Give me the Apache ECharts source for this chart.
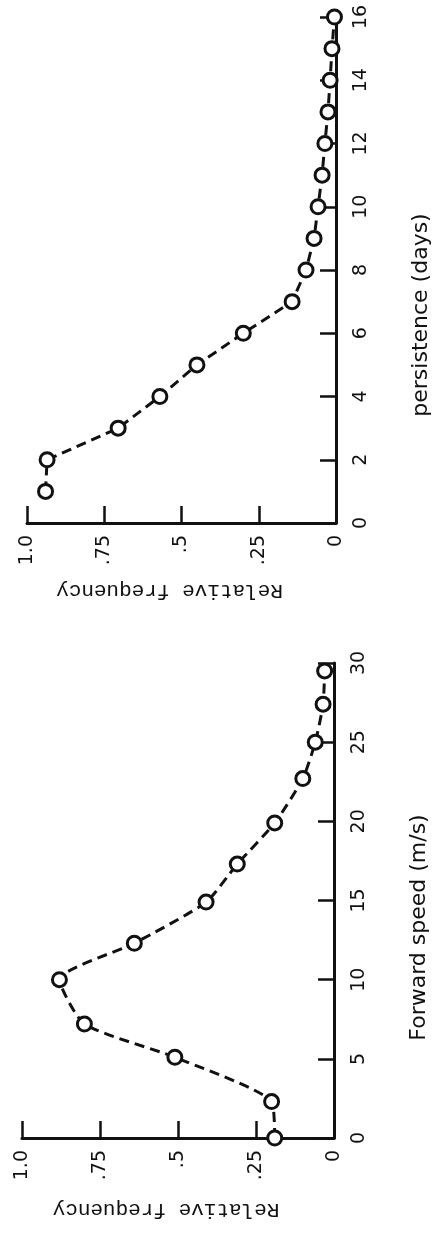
<!DOCTYPE html>
<html>
<head>
<meta charset="utf-8">
<title>Relative frequency of persistence and forward speed</title>
<script src="https://cdn.jsdelivr.net/npm/echarts@6/dist/echarts.min.js"></script>
<style>
  html, body { margin: 0; padding: 0; background: #fff; }
  #chart { width: 441px; height: 1236px; }
</style>
</head>
<body>
<div id="chart"></div>
<script>
// Persistence panel (upper)
const persistenceDays = [1, 2, 3, 4, 5, 6, 7, 8, 9, 10, 11, 12, 13, 14, 15, 16];
const persistenceFreq = [0.94, 0.935, 0.705, 0.57, 0.45, 0.30, 0.142, 0.097, 0.071, 0.058, 0.045, 0.036, 0.026, 0.019, 0.013, 0.005];

// Forward speed panel (lower)
const forwardSpeed = [0, 2.3, 5.1, 7.2, 10, 12.3, 14.9, 17.3, 19.9, 22.7, 25, 27.4, 29.5];
const speedFreq = [0.19, 0.20, 0.51, 0.80, 0.88, 0.64, 0.41, 0.31, 0.19, 0.10, 0.06, 0.035, 0.03];

// Frequency axis tick labels
const freqTicks = [0, 0.25, 0.5, 0.75, 1];
const freqTickText = ['0', '.25', '.5', '.75', '1.0'];

const freqName = 'Relative frequency';
const daysName = 'persistence (days)';
const speedName = 'Forward speed (m/s)';

const INK = '#111';

function freqLabel(v) {
  const i = freqTicks.findIndex(t => Math.abs(t - v) < 1e-9);
  return i >= 0 ? freqTickText[i] : '';
}

function freqAxis(gridIndex, gap) {
  return {
    type: 'value', gridIndex, inverse: true,
    min: 0, max: 1, interval: 0.25,
    position: 'bottom',
    axisLine: { show: true, onZero: false, lineStyle: { color: INK, width: 3 } },
    axisTick: { show: true, inside: true, length: 17, lineStyle: { color: INK, width: 2.5 } },
    axisLabel: {
      rotate: 90, margin: 12, color: INK, fontSize: 19,
      fontFamily: 'DejaVu Sans', formatter: freqLabel
    },
    splitLine: { show: false },
    name: freqName, nameLocation: 'middle', nameRotate: 180, nameGap: gap,
    nameMoveOverlap: false,
    nameTextStyle: { color: INK, fontSize: 21, fontFamily: 'Liberation Mono', padding: [0, 0, 0, 24] }
  };
}

function valueAxis(gridIndex, max, interval, name, shift) {
  return {
    type: 'value', gridIndex, min: 0, max, interval,
    position: 'right',
    axisLine: { show: true, onZero: false, lineStyle: { color: INK, width: 3 } },
    axisTick: { show: true, inside: true, length: 16, lineStyle: { color: INK, width: 2.5 } },
    axisLabel: { rotate: 90, margin: 16, color: INK, fontSize: 19, fontFamily: 'DejaVu Sans' },
    splitLine: { show: false },
    name, nameLocation: 'middle', nameRotate: 90, nameGap: 74,
    nameMoveOverlap: false,
    nameTextStyle: {
      color: INK, fontSize: 22, fontFamily: 'DejaVu Sans',
      padding: [0, shift, 0, 0]
    }
  };
}

const markerStyle = { color: '#fff', borderColor: INK, borderWidth: 3 };
const dashStyle = { color: INK, width: 3, type: [10, 6] };

const option = {
  backgroundColor: '#fff',
  animation: false,
  grid: [
    { left: 27, right: 105, top: 17, height: 506, containLabel: false, outerBoundsMode: 'none' },
    { left: 22, right: 107, top: 663, height: 475, containLabel: false, outerBoundsMode: 'none' }
  ],
  xAxis: [freqAxis(0, 57), freqAxis(1, 61)],
  yAxis: [
    valueAxis(0, 16, 2, daysName, 90),
    valueAxis(1, 30, 5, speedName, 54)
  ],
  series: [
    {
      type: 'line', xAxisIndex: 0, yAxisIndex: 0,
      data: persistenceDays.map((d, i) => [persistenceFreq[i], d]),
      symbol: 'circle', symbolSize: 14,
      itemStyle: markerStyle, lineStyle: dashStyle
    },
    {
      type: 'line', xAxisIndex: 1, yAxisIndex: 1,
      data: forwardSpeed.map((s, i) => [speedFreq[i], s]),
      smooth: 0.2,
      symbol: 'circle', symbolSize: 14,
      itemStyle: markerStyle, lineStyle: dashStyle
    }
  ]
};

const chart = echarts.init(document.getElementById('chart'), null, { renderer: 'canvas' });
chart.setOption(option);
</script>
</body>
</html>
